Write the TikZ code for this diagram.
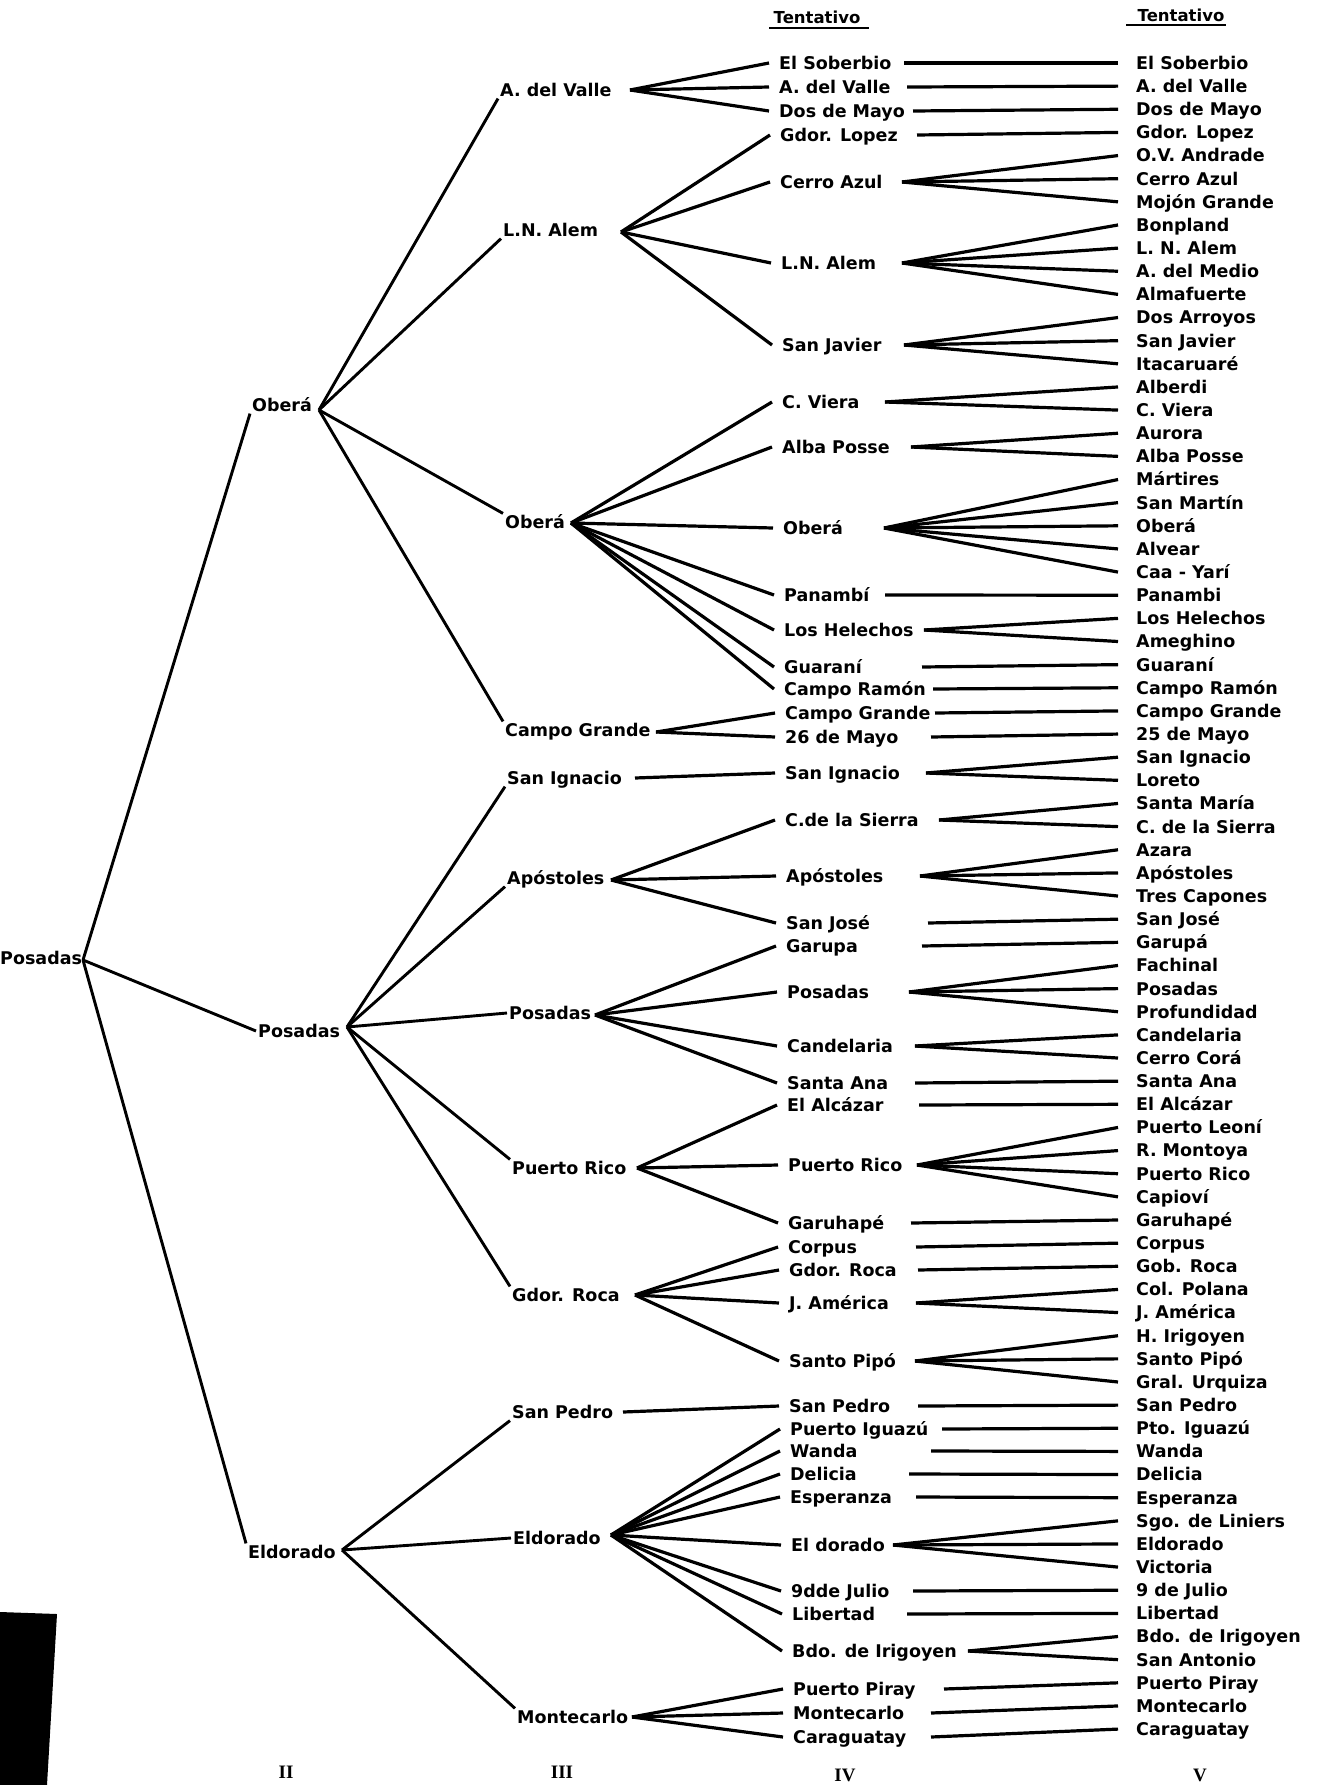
\documentclass[tikz,border=0pt]{standalone}
\usepackage{fontspec}
\newfontfamily\lf{DejaVu Sans}
\newfontfamily\nf{Liberation Serif}
\begin{document}
\begin{tikzpicture}[x=1pt,y=-1pt,
  lab/.style={font=\lf\bfseries\fontsize{17.5}{17.5}\selectfont, text height=12.8pt, text depth=0pt, inner ysep=2pt, anchor=west},
  rlab/.style={lab, inner xsep=0pt},
  blab/.style={lab, inner xsep=2pt},
  clab/.style={lab, inner xsep=2pt},
  dlab/.style={lab, inner xsep=10pt},
  vlab/.style={lab, inner xsep=18pt},
  conn/.style={line width=3.2pt},
  tree/.style={line width=2.9pt},
  uline/.style={line width=2.2pt},
  hlab/.style={font=\lf\bfseries\fontsize{16.5}{16.5}\selectfont, inner sep=0pt},
  num/.style={font=\nf\bfseries\fontsize{19}{19}\selectfont, inner sep=0pt}]

\fill[white] (0,0) rectangle (1317,1785);
\useasboundingbox (0,0) rectangle (1317,1785);

% headers
\node[hlab] (h1) at (817,17) {Tentativo};
\node[hlab] (h2) at (1181,15) {Tentativo};
\draw[uline] (769,28) -- (869,28);
\draw[uline] (1126,25) -- (1226,25);

% level V
\foreach \t [count=\i] in {El Soberbio, A. del Valle, Dos de Mayo, Gdor. Lopez, O.V. Andrade, Cerro Azul, Mojón Grande, Bonpland, L. N. Alem, A. del Medio, Almafuerte, Dos Arroyos, San Javier, Itacaruaré, Alberdi, C. Viera, Aurora, Alba Posse, Mártires, San Martín, Oberá, Alvear, Caa - Yarí, Panambi, Los Helechos, Ameghino, Guaraní, Campo Ramón, Campo Grande, 25 de Mayo, San Ignacio, Loreto, Santa María, C. de la Sierra, Azara, Apóstoles, Tres Capones, San José, Garupá, Fachinal, Posadas, Profundidad, Candelaria, Cerro Corá, Santa Ana, El Alcázar, Puerto Leoní, R. Montoya, Puerto Rico, Capioví, Garuhapé, Corpus, Gob. Roca, Col. Polana, J. América, H. Irigoyen, Santo Pipó, Gral. Urquiza, San Pedro, Pto. Iguazú, Wanda, Delicia, Esperanza, Sgo. de Liniers, Eldorado, Victoria, 9 de Julio, Libertad, Bdo. de Irigoyen, San Antonio, Puerto Piray, Montecarlo, Caraguatay}
  \node[vlab] (e\i) at (1118,{63+23.14*(\i-1)}) {\t};

% level IV
\foreach \t/\wx/\yy/\sx [count=\i] in {El Soberbio/769/63/904, A. del Valle/769/87/907, Dos de Mayo/769/111/913, Gdor. Lopez/770/135/917, Cerro Azul/770/182/902, L.N. Alem/771/263/902, San Javier/772/345/904, C. Viera/772/402/885, Alba Posse/772/447/911, Oberá/773/528/884, Panambí/774/595/885, Los Helechos/774/630/924, Guaraní/774/667/922, Campo Ramón/774/689/933, Campo Grande/775/713/935, 26 de Mayo/775/737/931, San Ignacio/775/773/926, C.de la Sierra/775/820/939, Apóstoles/776/876/920, San José/776/923/928, Garupa/776/946/922, Posadas/777/992/909, Candelaria/777/1046/915, Santa Ana/777/1083/915, El Alcázar/777/1105/919, Puerto Rico/778/1165/917, Garuhapé/778/1223/911, Corpus/778/1247/916, Gdor. Roca/779/1270/918, J. América/779/1303/916, Santo Pipó/779/1361/915, San Pedro/779/1406/918, Puerto Iguazú/780/1429/942, Wanda/780/1451/931, Delicia/780/1474/909, Esperanza/780/1497/916, El dorado/781/1545/893, 9dde Julio/781/1591/913, Libertad/782/1614/907, Bdo. de Irigoyen/782/1651/968, Puerto Piray/783/1689/944, Montecarlo/783/1713/931, Caraguatay/783/1737/931}
  {\node[dlab] (d\i) at (\wx,\yy) {\t};
   \coordinate (ds\i) at (\sx,\yy);}

% IV -> V
\foreach \a/\l in {1/1, 2/2, 3/3, 4/4, 5/{5,6,7}, 6/{8,9,10,11}, 7/{12,13,14}, 8/{15,16}, 9/{17,18}, 10/{19,20,21,22,23}, 11/24, 12/{25,26}, 13/27, 14/28, 15/29, 16/30, 17/{31,32}, 18/{33,34}, 19/{35,36,37}, 20/38, 21/39, 22/{40,41,42}, 23/{43,44}, 24/45, 25/46, 26/{47,48,49,50}, 27/51, 28/52, 29/53, 30/{54,55}, 31/{56,57,58}, 32/59, 33/60, 34/61, 35/62, 36/63, 37/{64,65,66}, 38/67, 39/68, 40/{69,70}, 41/71, 42/72, 43/73}
  \foreach \b in \l \draw[conn] (ds\a) -- (e\b.west);

% level III
\node[clab] (c1) at (498,90) {A. del Valle};   \coordinate (cf1) at (630,90);
\node[clab] (c2) at (501,230) {L.N. Alem};     \coordinate (cf2) at (621,232);
\node[clab] (c3) at (503,522) {Oberá};         \coordinate (cf3) at (571,523);
\node[clab] (c4) at (503,730) {Campo Grande};  \coordinate (cf4) at (656,732);
\node[clab] (c5) at (505,778) {San Ignacio};   \coordinate (cf5) at (635,778);
\node[clab] (c6) at (505,878) {Apóstoles};     \coordinate (cf6) at (611,880);
\node[clab] (c7) at (507,1013) {Posadas};      \coordinate (cf7) at (595,1015);
\node[clab] (c8) at (510,1168) {Puerto Rico};  \coordinate (cf8) at (637,1168);
\node[clab] (c9) at (510,1295) {Gdor. Roca};   \coordinate (cf9) at (635,1295);
\node[clab] (c10) at (510,1412) {San Pedro};   \coordinate (cf10) at (623,1412);
\node[clab] (c11) at (511,1538) {Eldorado};    \coordinate (cf11) at (611,1535);
\node[clab] (c12) at (515,1717) {Montecarlo};  \coordinate (cf12) at (632,1717);

% III -> IV
\foreach \a/\l in {1/{1,2,3}, 2/{4,5,6,7}, 3/{8,9,10,11,12,13,14}, 4/{15,16}, 5/17, 6/{18,19,20}, 7/{21,22,23,24}, 8/{25,26,27}, 9/{28,29,30,31}, 10/32, 11/{33,34,35,36,37,38,39,40}, 12/{41,42,43}}
  \foreach \b in \l \draw[conn] (cf\a) -- (d\b.west);

% level II
\node[blab] (b1) at (250,405) {Oberá};     \coordinate (bf1) at (319,410);
\node[blab] (b2) at (256,1031) {Posadas};  \coordinate (bf2) at (347,1027);
\node[blab] (b3) at (246,1552) {Eldorado}; \coordinate (bf3) at (342,1550);

\draw[tree] (bf1) -- (c1.south west);
\draw[tree] (bf1) -- (c2.south west);
\draw[tree] (bf1) -- (c3.north west);
\draw[tree] (bf1) -- (c4.north west);
\draw[tree] (bf2) -- (c5.south west);
\draw[tree] (bf2) -- (c6.south west);
\draw[tree] (bf2) -- (c7.west);
\draw[tree] (bf2) -- (c8.north west);
\draw[tree] (bf2) -- (c9.north west);
\draw[tree] (bf3) -- (c10.south west);
\draw[tree] (bf3) -- (c11.west);
\draw[tree] (bf3) -- (c12.north west);

% root
\node[rlab] (a) at (0,958) {Posadas};  \coordinate (af) at (83,960);
\draw[tree] (af) -- (b1.south west);
\draw[tree] (af) -- (b2.west);
\draw[tree] (af) -- (b3.north west);

% numerals
\node[num] (n2) at (286,1772) {II};
\node[num] (n3) at (562,1772) {III};
\node[num] (n4) at (845,1775) {IV};
\node[num] (n5) at (1200,1775) {V};

% black block
\fill[black] (0,1612) -- (57,1614) -- (47,1785) -- (0,1785) -- cycle;
\end{tikzpicture}
\end{document}
